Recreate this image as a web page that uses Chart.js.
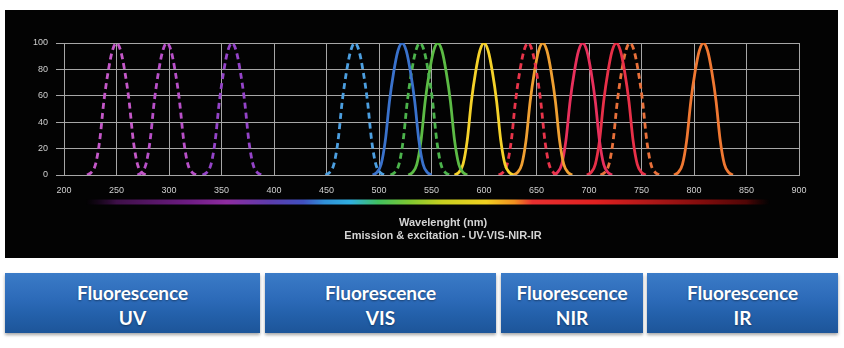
<!DOCTYPE html>
<html>
<head>
<meta charset="utf-8">
<script src="https://cdn.jsdelivr.net/npm/chart.js@4"></script>
<style>
  html, body { margin: 0; padding: 0; background: #fff; }
  body { width: 844px; height: 348px; position: relative; overflow: hidden; font-family: Lato, "Open Sans", sans-serif; }
  #panel { position: absolute; left: 5px; top: 10px; width: 833px; height: 248px; background: #030303; }
  .box {
    position: absolute; top: 273px; height: 60px;
    background: linear-gradient(to bottom, #3b7bc7 0%, #2c6ab8 45%, #2360aa 70%, #1d5599 100%);
    box-shadow: 0 2px 3px rgba(0,0,0,0.35);
    color: #fff; font-weight: bold; font-size: 19px; line-height: 25px;
    text-align: center; display: flex; flex-direction: column; justify-content: center;
    padding-top: 3px; box-sizing: border-box;
    text-shadow: 0 1px 2px rgba(0,0,0,0.4);
  }
</style>
</head>
<body>
<div id="panel"><canvas id="chart-spectra"></canvas></div>
<div id="boxes"></div>
<script>
// intensity profile (same shape for every dye)
const intensity = [0, 2, 8, 26, 56, 78, 94, 100, 94, 78, 56, 26, 8, 2, 0];

// wavelengths (nm) for each curve
const exUv250 = [222, 226, 230, 234, 238, 242, 246, 250, 254, 258, 262, 266, 270, 274, 278];
const exUv298 = [270, 274, 278, 282, 286, 290, 294, 298, 302, 306, 310, 314, 318, 322, 326];
const exUv360 = [332, 336, 340, 344, 348, 352, 356, 360, 364, 368, 372, 376, 380, 384, 388];
const exBlue = [449, 453, 457, 461, 465, 469, 473, 477, 481, 485, 489, 493, 497, 501, 505];
const emBlue = [494, 498, 502, 506, 510, 514, 518, 522, 526, 530, 534, 538, 542, 546, 550];
const exGreen = [511, 515, 519, 523, 527, 531, 535, 539, 543, 547, 551, 555, 559, 563, 567];
const emGreen = [528, 532, 536, 540, 544, 548, 552, 556, 560, 564, 568, 572, 576, 580, 584];
const emYellow = [572, 576, 580, 584, 588, 592, 596, 600, 604, 608, 612, 616, 620, 624, 628];
const exRed = [614, 618, 622, 626, 630, 634, 638, 642, 646, 650, 654, 658, 662, 666, 670];
const emOrange = [628, 632, 636, 640, 644, 648, 652, 656, 660, 664, 668, 672, 676, 680, 684];
const emPink = [666, 670, 674, 678, 682, 686, 690, 694, 698, 702, 706, 710, 714, 718, 722];
const emRed = [698, 702, 706, 710, 714, 718, 722, 726, 730, 734, 738, 742, 746, 750, 754];
const exNir = [711, 715, 719, 723, 727, 731, 735, 739, 743, 747, 751, 755, 759, 763, 767];
const emIr = [781, 785, 789, 793, 797, 801, 805, 809, 813, 817, 821, 825, 829, 833, 837];

const xTicks = [200, 250, 300, 350, 400, 450, 500, 550, 600, 650, 700, 750, 800, 850, 900];
const yTicks = [0, 20, 40, 60, 80, 100];

const boxLabels = [['Fluorescence', 'UV'], ['Fluorescence', 'VIS'], ['Fluorescence', 'NIR'], ['Fluorescence', 'IR']];

// [wavelengths, colour, dashed?]
const curves = [
    [exUv250, '#c458c8', true],
    [exUv298, '#b850c8', true],
    [exUv360, '#9444c8', true],
    [exBlue, '#4c9fe0', true],
    [emBlue, '#3a72cc', false],
    [exGreen, '#4cb34c', true],
    [emGreen, '#5cbb45', false],
    [emYellow, '#f5d22a', false],
    [exRed, '#e8344a', true],
    [emOrange, '#f0a032', false],
    [emPink, '#e8305c', false],
    [emRed, '#e83048', false],
    [exNir, '#e8703a', true],
    [emIr, '#f07832', false]
];

// spectrum bar stops, wavelength -> colour
const barStops = [
    [221, 'rgba(40,8,48,0)'], [250, '#3e1048'], [319, '#6e1c84'], [355, '#8e2ca0'],
    [396, '#5c3cac'], [428, '#4050c0'], [448, '#3090d8'], [473, '#30b0e0'],
    [499, '#40c060'], [530, '#80c830'], [560, '#c8d020'], [602, '#f0d020'],
    [629, '#f09020'], [646, '#e83030'], [706, '#e02020'], [757, '#b01818'],
    [809, '#800c0c'], [850, '#500606'], [872, 'rgba(60,4,4,0)']
];

const boxes = document.getElementById('boxes');
const boxPos = [[5, 255], [265, 231], [501, 142], [647, 191]];
boxLabels.forEach((lines, i) => {
    const d = document.createElement('div');
    d.className = 'box';
    d.style.left = boxPos[i][0] + 'px';
    d.style.width = boxPos[i][1] + 'px';
    d.innerHTML = lines.map(l => '<div>' + l + '</div>').join('');
    boxes.appendChild(d);
});

const spectrumBar = {
    id: 'spectrumBar',
    afterDraw(chart) {
        const ctx = chart.ctx;
        const xs = chart.scales.x;
        const x0 = xs.getPixelForValue(barStops[0][0]);
        const x1 = xs.getPixelForValue(barStops[barStops.length - 1][0]);
        const g = ctx.createLinearGradient(x0, 0, x1, 0);
        barStops.forEach(s => {
            g.addColorStop((s[0] - barStops[0][0]) / (barStops[barStops.length - 1][0] - barStops[0][0]), s[1]);
        });
        ctx.save();
        ctx.fillStyle = g;
        ctx.fillRect(x0, chart.chartArea.bottom + 24.5, x1 - x0, 5);

        const cx = xs.getPixelForValue(561);
        ctx.fillStyle = '#d4d4d4';
        ctx.textAlign = 'center';
        ctx.textBaseline = 'middle';
        ctx.font = 'bold 11px "Liberation Sans", Arial, sans-serif';
        ctx.fillText('Wavelenght (nm)', cx, chart.chartArea.bottom + 48, 89);
        ctx.fillText('Emission & excitation - UV-VIS-NIR-IR', cx, chart.chartArea.bottom + 61, 200);
        ctx.restore();
    }
};

const ctx = document.getElementById('chart-spectra');

new Chart(ctx, {
    type: 'line',
    data: {
        datasets: curves.map(c => ({
            data: c[0].map((w, i) => ({ x: w, y: intensity[i] })),
            borderColor: c[1],
            borderWidth: 2.8,
            borderDash: c[2] ? [6, 4] : [],
            pointRadius: 0,
            cubicInterpolationMode: 'monotone',
            fill: false
        }))
    },
    options: {
        responsive: true,
        maintainAspectRatio: false,
        animation: false,
        layout: {
            padding: { top: 33, right: 39, left: 0, bottom: 0 }
        },
        scales: {
            x: {
                type: 'linear',
                min: 200,
                max: 900,
                afterBuildTicks: (scale) => { scale.ticks = xTicks.map(v => ({ value: v })); },
                afterFit: (scale) => { scale.height = 83; },
                grid: { color: '#a6a6a6', lineWidth: 1, drawTicks: false },
                border: { color: '#a6a6a6' },
                ticks: {
                    color: '#cfcfcf',
                    padding: 10,
                    maxRotation: 0,
                    font: { family: '"Liberation Sans", Arial, sans-serif', size: 9 }
                }
            },
            y: {
                min: 0,
                max: 100,
                afterBuildTicks: (scale) => { scale.ticks = yTicks.map(v => ({ value: v })); },
                afterFit: (scale) => { scale.width = 59; },
                grid: { color: '#a6a6a6', lineWidth: 1, tickLength: 8 },
                border: { color: '#a6a6a6' },
                ticks: {
                    color: '#cfcfcf',
                    padding: 8,
                    font: { family: '"Liberation Sans", Arial, sans-serif', size: 9 }
                }
            }
        },
        plugins: {
            legend: { display: false },
            tooltip: { enabled: false }
        }
    },
    plugins: [spectrumBar]
});
</script>
</body>
</html>
